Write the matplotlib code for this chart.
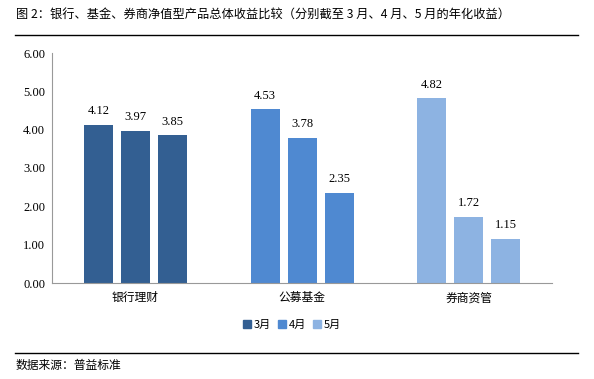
import matplotlib
matplotlib.use('Agg')
import matplotlib.pyplot as plt
import numpy as np

plt.rcParams['font.family'] = ['Noto Sans CJK SC', 'DejaVu Sans']

categories = ['银行理财', '公募基金', '券商资管']
months = ['3月', '4月', '5月']
values = [
    [4.12, 3.97, 3.85],
    [4.53, 3.78, 2.35],
    [4.82, 1.72, 1.15],
]
group_colors = ['#335F92', '#4F89D1', '#8DB3E2']
yticks = [0, 1, 2, 3, 4, 5, 6]

fig = plt.figure(figsize=(5.94, 3.79), dpi=100)
ax = fig.add_axes([52 / 594, 1 - 283 / 379, 500 / 594, 230 / 379])

x = np.arange(len(categories))
width = 0.174
pitch = 0.222
for gi, cat in enumerate(categories):
    for mi in range(len(months)):
        v = values[gi][mi]
        xpos = x[gi] + (mi - 1) * pitch
        ax.bar(xpos, v, width=width, color=group_colors[gi], zorder=2)
        ax.text(xpos, v + 0.2, '%.2f' % v, ha='center', va='bottom',
                fontsize=9, family='Liberation Serif')

ax.set_xlim(-0.5, 2.5)
ax.set_ylim(0, 6)
ax.set_yticks(yticks)
ax.set_yticklabels(['%.2f' % t for t in yticks], family='Liberation Serif', fontsize=9)
ax.set_xticks(x)
ax.set_xticklabels(categories, fontsize=8.5)
ax.tick_params(length=0, pad=6)
ax.tick_params(axis='y', pad=5)
for s in ['top', 'right']:
    ax.spines[s].set_visible(False)
for s in ['left', 'bottom']:
    ax.spines[s].set_color('#999999')

# legend (colors follow the month order)
handles = [plt.Rectangle((0, 0), 1, 1, color=c) for c in group_colors]
fig.legend(handles, months, loc='center', bbox_to_anchor=(292 / 594, 1 - 325 / 379),
           ncol=3, frameon=False, fontsize=8, handlelength=0.7, handleheight=0.7,
           handletextpad=0.3, columnspacing=0.6)

fig.text(16 / 594, 1 - 15 / 379,
         '图 2：银行、基金、券商净值型产品总体收益比较（分别截至 3 月、4 月、5 月的年化收益）',
         fontsize=8.8, va='center', ha='left')
fig.add_artist(plt.Line2D([15 / 594, 578 / 594], [1 - 35 / 379, 1 - 35 / 379], color='black', lw=1))
fig.add_artist(plt.Line2D([15 / 594, 578 / 594], [1 - 353 / 379, 1 - 353 / 379], color='black', lw=1))
fig.text(16 / 594, 1 - 365 / 379, '数据来源：普益标准', fontsize=8.5, va='center', ha='left')

fig.savefig('out.png', dpi=100)
